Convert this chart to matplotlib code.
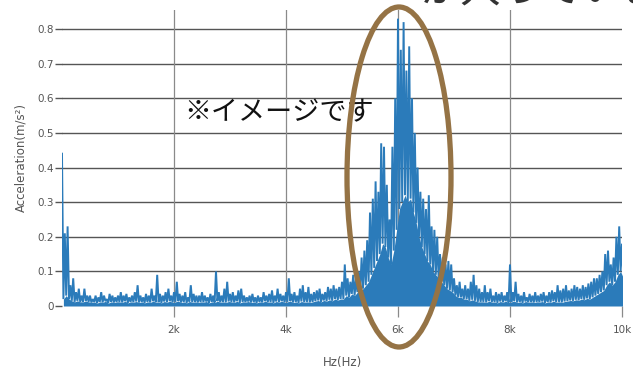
import numpy as np
import matplotlib
matplotlib.use("Agg")
import matplotlib.pyplot as plt
from matplotlib.patches import Ellipse

# ---- data ----
freq_step = 50  # Hz per bin
peaks = [
    0.44, 0.21, 0.23, 0.06, 0.08, 0.04, 0.05, 0.03, 0.05, 0.03,
    0.03, 0.02, 0.03, 0.025, 0.04, 0.03, 0.02, 0.035, 0.03, 0.025,
    0.03, 0.04, 0.03, 0.035, 0.025, 0.03, 0.04, 0.06, 0.03, 0.025,
    0.035, 0.03, 0.05, 0.03, 0.09, 0.035, 0.03, 0.04, 0.05, 0.03,
    0.04, 0.07, 0.035, 0.03, 0.04, 0.025, 0.06, 0.035, 0.03, 0.03,
    0.04, 0.03, 0.025, 0.035, 0.03, 0.10, 0.04, 0.03, 0.05, 0.07,
    0.035, 0.04, 0.03, 0.045, 0.05, 0.03, 0.025, 0.03, 0.035, 0.025,
    0.03, 0.025, 0.04, 0.03, 0.035, 0.045, 0.03, 0.05, 0.035, 0.03,
    0.04, 0.08, 0.035, 0.04, 0.03, 0.05, 0.06, 0.04, 0.055, 0.035,
    0.04, 0.045, 0.05, 0.035, 0.04, 0.055, 0.05, 0.06, 0.05, 0.055,
    0.07, 0.12, 0.08, 0.07, 0.09, 0.08, 0.10, 0.14, 0.16, 0.19,
    0.27, 0.31, 0.36, 0.33, 0.47, 0.46, 0.35, 0.25, 0.46, 0.60,
    0.83, 0.74, 0.82, 0.68, 0.75, 0.60, 0.50, 0.40, 0.33, 0.31,
    0.28, 0.32, 0.23, 0.22, 0.20, 0.15, 0.14, 0.12, 0.13, 0.12,
    0.08, 0.06, 0.07, 0.05, 0.06, 0.05, 0.07, 0.09, 0.06, 0.05,
    0.04, 0.06, 0.04, 0.05, 0.03, 0.04, 0.035, 0.04, 0.03, 0.04,
    0.12, 0.04, 0.07, 0.035, 0.03, 0.04, 0.025, 0.035, 0.03, 0.04,
    0.03, 0.035, 0.04, 0.03, 0.04, 0.045, 0.04, 0.06, 0.045, 0.05,
    0.06, 0.045, 0.05, 0.06, 0.055, 0.05, 0.06, 0.055, 0.065, 0.07,
    0.08, 0.08, 0.09, 0.10, 0.15, 0.16, 0.12, 0.14, 0.20, 0.23,
    0.18,
]
troughs = [
    0.02, 0.03, 0.02, 0.015, 0.012, 0.015, 0.012, 0.012, 0.014, 0.012,
    0.01, 0.012, 0.008, 0.012, 0.01, 0.014, 0.008, 0.012, 0.01, 0.012,
    0.012, 0.01, 0.014, 0.009, 0.012, 0.011, 0.013, 0.01, 0.012, 0.009,
    0.012, 0.01, 0.014, 0.011, 0.012, 0.009, 0.013, 0.011, 0.014, 0.01,
    0.012, 0.014, 0.01, 0.012, 0.009, 0.013, 0.011, 0.012, 0.01, 0.012,
    0.011, 0.013, 0.009, 0.012, 0.01, 0.014, 0.011, 0.012, 0.01, 0.013,
    0.012, 0.01, 0.014, 0.009, 0.012, 0.011, 0.013, 0.01, 0.012, 0.009,
    0.012, 0.01, 0.014, 0.011, 0.012, 0.009, 0.013, 0.011, 0.014, 0.01,
    0.012, 0.014, 0.01, 0.012, 0.009, 0.013, 0.011, 0.012, 0.01, 0.012,
    0.014, 0.016, 0.012, 0.016, 0.014, 0.018, 0.015, 0.02, 0.017, 0.02,
    0.02, 0.03, 0.025, 0.035, 0.03, 0.04, 0.045, 0.05, 0.06, 0.07,
    0.09, 0.11, 0.13, 0.15, 0.18, 0.17, 0.14, 0.12, 0.16, 0.22,
    0.28, 0.30, 0.32, 0.30, 0.31, 0.27, 0.24, 0.20, 0.17, 0.15,
    0.13, 0.12, 0.10, 0.09, 0.08, 0.07, 0.06, 0.05, 0.045, 0.04,
    0.03, 0.025, 0.025, 0.02, 0.02, 0.015, 0.018, 0.015, 0.012, 0.012,
    0.012, 0.01, 0.014, 0.011, 0.012, 0.009, 0.013, 0.011, 0.014, 0.01,
    0.012, 0.014, 0.01, 0.012, 0.009, 0.013, 0.011, 0.012, 0.01, 0.012,
    0.011, 0.013, 0.009, 0.012, 0.01, 0.014, 0.011, 0.012, 0.01, 0.013,
    0.014, 0.016, 0.015, 0.018, 0.016, 0.02, 0.018, 0.022, 0.02, 0.025,
    0.03, 0.035, 0.04, 0.045, 0.06, 0.07, 0.06, 0.07, 0.09, 0.10,
    0.08,
]
y_ticks = [0, 0.1, 0.2, 0.3, 0.4, 0.5, 0.6, 0.7, 0.8]
y_tick_labels = ["0", "0.1", "0.2", "0.3", "0.4", "0.5", "0.6", "0.7", "0.8"]
x_ticks = [2000, 4000, 6000, 8000, 10000]
x_tick_labels = ["2k", "4k", "6k", "8k", "10k"]
note_text = "※イメージです"
top_text = "が入っています"

# ---- build zig-zag line from the peak / trough readings ----
freqs = np.arange(len(peaks)) * freq_step
xs = np.empty(2 * len(peaks))
ys = np.empty(2 * len(peaks))
xs[0::2] = freqs
xs[1::2] = freqs + freq_step / 2
ys[0::2] = peaks
ys[1::2] = troughs

W, H = 633, 375
fig = plt.figure(figsize=(W / 100, H / 100), dpi=100)
ax = fig.add_axes([62 / W, 1 - 306 / H, 560 / W, 296 / H])
ax.set_xlim(0, 10000)
ax.set_ylim(0, 0.855)

for s in ax.spines.values():
    s.set_visible(False)

# grid
for v in y_ticks[1:]:
    ax.axhline(v, color="#555555", lw=1.0, zorder=1)
for v in x_ticks[:-1]:
    ax.axvline(v, color="#8a8a8a", lw=0.9, zorder=1)

blue = "#2b7bba"
ax.fill_between(freqs + freq_step / 2, 0, troughs, color=blue, lw=0, zorder=2)
ax.plot(xs, ys, color=blue, lw=1.4, zorder=3, solid_joinstyle="miter")

ax.set_yticks(y_ticks)
ax.set_yticklabels(y_tick_labels)
ax.set_xticks(x_ticks)
ax.set_xticklabels(x_tick_labels)
ax.tick_params(axis="y", length=5, width=1.0, color="#555555", pad=1,
               labelsize=7.5, labelcolor="#555555")
ax.tick_params(axis="x", length=8, width=0.9, color="#8a8a8a", pad=6,
               labelsize=7.5, labelcolor="#555555")

ax.set_ylabel("Acceleration(m/s²)", fontsize=8.5, color="#555555", labelpad=7)
ax.set_xlabel("Hz(Hz)", fontsize=8.5, color="#555555", labelpad=15)

# note text
fig.text(184 / W, 1 - 113 / H, note_text, fontsize=19.5, color="#111111",
         family=["Noto Sans CJK JP", "DejaVu Sans"], va="center", ha="left")
# top text (mostly cut off by the top edge, as in the reference)
fig.text(420 / W, 1 - 2 / H, top_text, fontsize=29, color="#333333",
         family=["Noto Sans CJK JP", "DejaVu Sans"], va="baseline", ha="left")

# highlighted ellipse
ell = Ellipse((399 / W, 1 - 177 / H), 104 / W, 340 / H,
              transform=fig.transFigure, fill=False,
              edgecolor="#957345", lw=3.8, zorder=10)
fig.add_artist(ell)

fig.savefig("out.png", dpi=100)
